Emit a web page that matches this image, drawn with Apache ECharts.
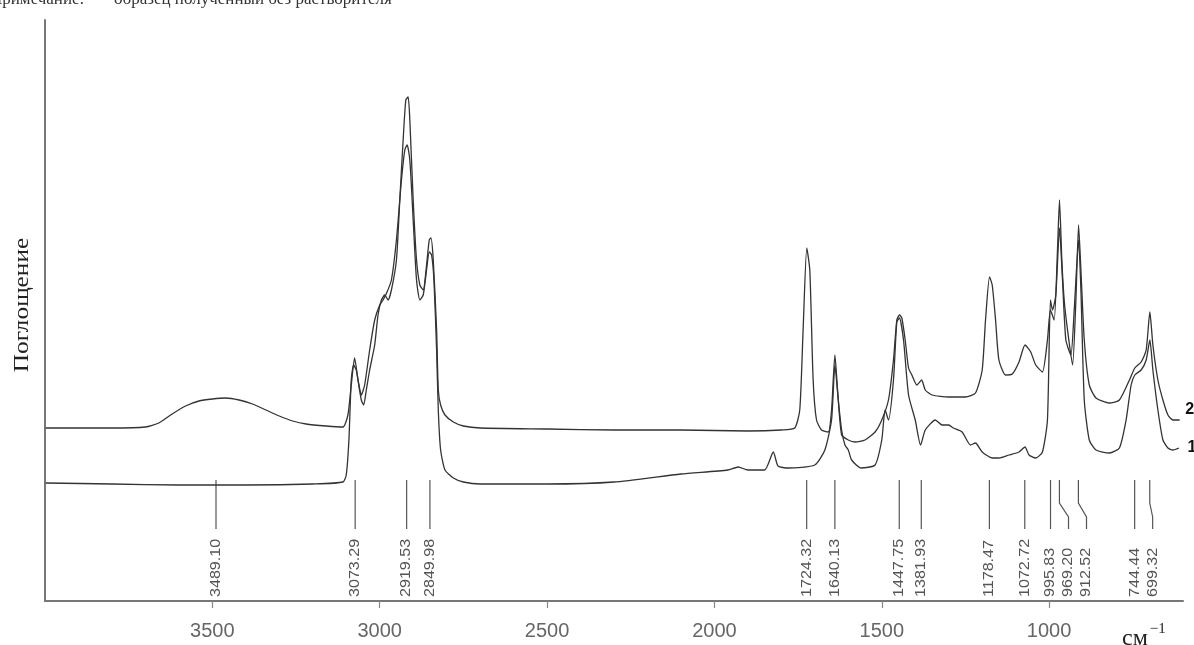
<!DOCTYPE html>
<html><head><meta charset="utf-8">
<script src="https://cdn.jsdelivr.net/npm/echarts@6/dist/echarts.min.js"></script>
<style>html,body{margin:0;padding:0;background:#fff}#c{width:1194px;height:645px}</style>
</head><body><div id="c"></div>
<script>
// X axis ticks (cm^-1)
const xTicks = [3500, 3000, 2500, 2000, 1500, 1000];
// Curve 2 (upper trace)
const wn2 = [3998,3900,3800,3700,3660,3620,3580,3540,3500,3460,3420,3380,3340,3300,3260,3220,3160,3110,3095,3085,3075,3065,3055,3048,3040,3030,3015,3005,2995,2985,2975,2965,2950,2940,2930,2922,2915,2910,2900,2890,2880,2870,2860,2852,2847,2840,2830,2825,2818,2805,2780,2750,2700,2500,2300,2100,1900,1800,1760,1745,1735,1724,1715,1705,1695,1680,1660,1650,1640,1632,1620,1600,1580,1550,1520,1500,1480,1465,1455,1447,1440,1430,1420,1410,1395,1381,1370,1350,1300,1250,1220,1200,1190,1178,1170,1160,1150,1130,1110,1090,1072,1055,1040,1020,1005,996,985,975,969,962,955,945,930,920,912,905,895,880,860,820,790,760,744,725,710,699,690,675,660,645,630,610];
const ab2 = [17.3,17.3,17.3,17.4,17.8,18.7,19.5,20.0,20.2,20.3,20.1,19.7,19.1,18.5,18.0,17.7,17.5,17.4,18.6,21.6,24.3,22.1,20.1,19.6,21.1,23.1,25.6,28.6,30.1,30.6,30.1,31.1,34.1,40.1,46.1,50.1,50.4,48.1,40.1,34.1,31.6,31.1,33.6,36.1,36.3,34.1,27.1,21.1,19.6,18.6,17.9,17.5,17.3,17.2,17.1,17.1,17.0,17.1,17.3,19.1,27.1,35.3,33.1,22.1,18.1,17.1,16.9,19.1,24.6,21.1,16.6,16.1,15.9,16.1,16.9,18.1,20.1,24.1,28.1,28.6,28.3,26.1,23.3,22.6,21.6,22.1,21.1,20.6,20.4,20.4,20.8,23.1,28.1,32.4,31.6,28.1,24.1,22.6,22.7,23.9,25.6,24.9,23.6,22.9,26.1,29.1,28.1,35.1,40.1,34.1,30.1,27.1,23.6,30.1,37.6,33.1,26.1,21.6,20.3,19.8,20.1,22.1,23.3,23.9,25.1,28.9,25.6,22.1,20.1,18.6,18.1,18.1];
// Curve 1 (lower trace)
const wn1 = [3998,3800,3600,3400,3200,3110,3100,3092,3085,3078,3070,3062,3055,3045,3030,3015,3000,2990,2978,2965,2950,2935,2925,2918,2910,2900,2890,2880,2870,2860,2852,2845,2838,2830,2825,2818,2805,2780,2750,2700,2500,2300,2100,1960,1929,1900,1850,1824,1810,1780,1700,1670,1650,1640,1630,1620,1610,1600,1590,1562,1520,1500,1490,1480,1465,1455,1447,1435,1420,1400,1384,1370,1340,1320,1300,1286,1260,1235,1220,1200,1170,1150,1120,1090,1072,1060,1040,1020,1005,996,990,980,969,960,950,935,925,912,905,895,880,860,820,790,770,755,744,725,710,699,690,675,660,645,630,612];
const ab1 = [11.8,11.7,11.6,11.6,11.7,11.9,12.6,16.1,22.1,23.6,23.1,21.6,20.6,21.6,25.1,28.1,29.6,30.1,30.9,32.1,36.1,42.1,45.1,45.6,44.1,38.1,32.1,30.1,30.6,33.1,34.9,34.6,32.1,25.1,19.1,15.1,13.1,12.3,11.9,11.7,11.7,11.9,12.7,13.1,13.4,13.1,13.1,14.9,13.5,13.3,13.6,15.1,18.1,23.6,20.1,17.1,15.6,15.1,14.1,13.3,13.6,16.1,19.1,18.1,22.1,27.9,28.3,26.1,20.6,18.1,15.6,17.1,18.1,17.6,17.6,17.3,16.9,15.6,15.8,14.9,14.3,14.3,14.6,14.9,15.4,14.6,14.3,14.9,18.1,30.1,29.1,30.6,37.3,32.1,26.1,24.6,29.1,36.1,31.1,20.1,16.1,15.1,14.8,15.3,18.1,21.6,22.6,23.1,24.1,26.1,23.1,19.1,16.1,15.3,15.1,15.3];
// Peak annotations
const peakWn = [3489.10, 3073.29, 2919.53, 2849.98, 1724.32, 1640.13, 1447.75, 1381.93, 1178.47, 1072.72, 995.83, 969.20, 912.52, 744.44, 699.32];

const chart = echarts.init(document.getElementById('c'), null, {renderer: 'canvas'});
const pair = (w, a) => w.map((v, i) => [v, a[i]]);
const last = (w, a) => [w[w.length - 1], a[a.length - 1]];
const LABEL_GAP = 18;
const GREY = '#555';

function peakItem(params, api) {
  const xs = peakWn.map(w => api.coord([w, 0])[0]);
  const order = xs.map((x, i) => i).sort((a, b) => xs[a] - xs[b]);
  const lx = new Array(xs.length);
  let prev = -1e9;
  order.forEach(k => { lx[k] = Math.max(xs[k], prev + LABEL_GAP); prev = lx[k]; });
  const i = params.dataIndex;
  const yTop = api.coord([0, 12.1])[1];
  const yB1 = api.coord([0, 9.8])[1];
  const yB2 = api.coord([0, 8.4])[1];
  const yBot = api.coord([0, 7.2])[1];
  const yTxt = api.coord([0, 0.4])[1];
  const x = xs[i], l = lx[i];
  const pts = Math.abs(l - x) < 0.5 ? [[x, yTop], [x, yBot]] : [[x, yTop], [x, yB1], [l, yB2], [l, yBot]];
  return {
    type: 'group',
    children: [
      {type: 'polyline', shape: {points: pts}, style: {stroke: GREY, lineWidth: 1.2, fill: null}},
      {type: 'text', x: l, y: yTxt, rotation: Math.PI / 2, scaleX: 1.15,
       style: {text: peakWn[i].toFixed(2), fill: GREY, fontSize: 14, fontFamily: 'Liberation Sans, Arial, sans-serif', align: 'left', verticalAlign: 'middle'}}
    ]
  };
}

function endMark(name, coord, dist, dy) {
  return {
    symbol: 'circle', symbolSize: 1, itemStyle: {color: 'rgba(0,0,0,0)'}, silent: true,
    data: [{coord: coord}],
    label: {show: true, formatter: name, position: 'right', distance: dist, offset: [0, dy],
            fontSize: 16, fontWeight: 'bold', color: '#111', fontFamily: 'Liberation Sans, Arial'}
  };
}

const option = {
  animation: false,
  backgroundColor: '#fff',
  grid: {left: 45, right: 11, top: 20, bottom: 44, containLabel: false},
  xAxis: {
    type: 'value', min: 600, max: 4000, inverse: true,
    axisLine: {show: true, lineStyle: {color: '#777', width: 2}},
    axisTick: {show: true, customValues: xTicks, length: 7, inside: false, lineStyle: {color: '#888', width: 1.2}},
    axisLabel: {show: true, customValues: xTicks, formatter: v => String(v), margin: 20, fontSize: 20, color: '#666', fontFamily: 'Liberation Sans, Arial, sans-serif'},
    splitLine: {show: false}
  },
  yAxis: {
    type: 'value', min: 0, max: 58.1,
    axisLine: {show: true, onZero: false, lineStyle: {color: '#777', width: 2}},
    axisTick: {show: false}, axisLabel: {show: false}, splitLine: {show: false}
  },
  graphic: [
    {type: 'text', x: 22, y: 305, rotation: Math.PI / 2, scaleX: 1.15,
     style: {text: 'Поглощение', fontSize: 22, fontFamily: 'Liberation Serif, DejaVu Serif, serif', fill: '#222', align: 'center', verticalAlign: 'middle'}},
    {type: 'text', x: 1122, y: 622,
     style: {text: '{a|см}{b|−1}', fill: '#222', rich: {
       a: {fontSize: 24, fontFamily: 'Liberation Serif, serif', fill: '#222', verticalAlign: 'bottom'},
       b: {fontSize: 15, fontFamily: 'Liberation Serif, serif', fill: '#222', verticalAlign: 'top', padding: [0, 0, 14, 2]}
     }}},
    {type: 'text', x: -10, y: -9,
     style: {text: 'Примечание:       образец полученный без растворителя', fontSize: 17, fontFamily: 'Liberation Serif, serif', fill: '#333'}}
  ],
  series: [
    {name: '2', type: 'line', data: pair(wn2, ab2), showSymbol: false, smooth: 0.2,
     lineStyle: {color: '#333', width: 1.3},
     markPoint: endMark('2', last(wn2, ab2), 5, -10)},
    {name: '1', type: 'line', data: pair(wn1, ab1), showSymbol: false, smooth: 0.2,
     lineStyle: {color: '#333', width: 1.3},
     markPoint: endMark('1', last(wn1, ab1), 8, 0)},
    {type: 'custom', renderItem: peakItem, data: peakWn.map(w => [w, 0]), silent: true, z: 3}
  ]
};
chart.setOption(option);
</script></body></html>
